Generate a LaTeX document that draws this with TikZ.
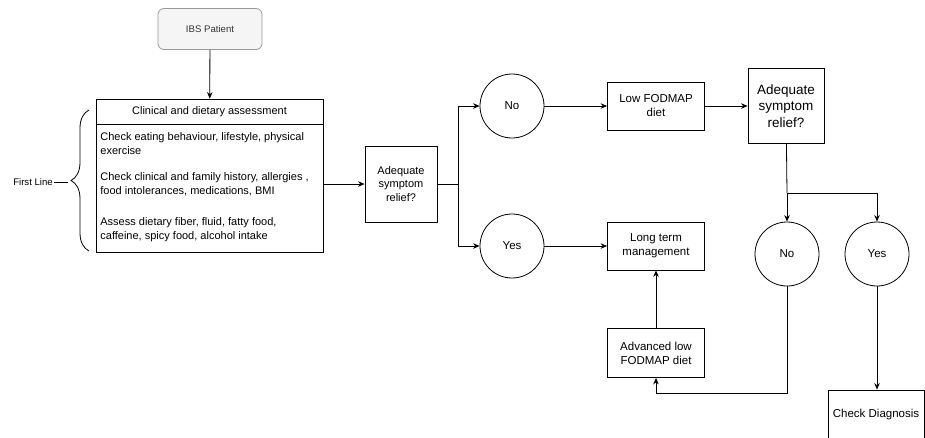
\documentclass[tikz,border=0pt]{standalone}
\usepackage{fontspec}
\setmainfont{Liberation Sans}
\usetikzlibrary{decorations.pathreplacing}
\usetikzlibrary{arrows.meta}

\begin{document}
\begin{tikzpicture}[x=1pt,y=-1pt,line width=0.8pt,>={Stealth[length=6.5pt,width=5.5pt]},
    box/.style={draw,rectangle,inner sep=1pt,align=center,font=\fontsize{11.5}{14}\selectfont},
    circ/.style={draw,circle,minimum size=64pt,inner sep=0pt,font=\fontsize{11.5}{14}\selectfont},
    para/.style={anchor=west,align=left,inner sep=0pt,font=\fontsize{11}{14}\selectfont}]
  \useasboundingbox (0,0) rectangle (925,437);
  \clip (0,0) rectangle (925,437);

  \node (ibs) [box,rounded corners=6pt,draw=gray!80,fill=gray!8,text=black!80,
    minimum width=104pt,minimum height=41pt,font=\fontsize{9.6}{12}\selectfont] at (210,29) {IBS Patient};
  \node (clin) [box,minimum width=227pt,minimum height=153pt] at (209.5,175.5) {};
  \node (clinhead) [font=\fontsize{11}{14}\selectfont] at (209.5,111.5) {Clinical and dietary assessment};
  \draw (clin.west |- 0,124) -- (clin.east |- 0,124);
  \node (habits) [para] at (100,144) {Check eating behaviour, lifestyle, physical\\exercise};
  \node (history) [para] at (100,184.5) {Check clinical and family history, allergies ,\\food intolerances, medications, BMI};
  \node (intake) [para] at (100,230) {Assess dietary fiber, fluid, fatty food,\\caffeine, spicy food, alcohol intake};

  \node (first) [font=\fontsize{9.6}{12}\selectfont,inner sep=1pt] at (33,182) {First Line};
  \coordinate (bracebot) at (89,251);
  \coordinate (bracetop) at (89,110);
  \coordinate (bracetip) at (68,182);
  \draw[decorate,decoration={brace,amplitude=18pt}] (bracebot) -- (bracetop);
  \draw (first) -- (bracetip);

  \node (adq1) [box,minimum width=72pt,minimum height=76pt,font=\fontsize{11}{13.3}\selectfont] at (401,184) {Adequate\\symptom\\relief?};
  \coordinate (split1) at (458,184);
  \node (no1) [circ] at (512,106) {No};
  \node (yes1) [circ] at (512,246) {Yes};
  \node (low) [box,minimum width=97pt,minimum height=48pt] at (656,106) {Low FODMAP\\diet};
  \node (longt) [box,minimum width=97pt,minimum height=48pt] at (656,246) {Long term\\management};
  \node (adv) [box,minimum width=97pt,minimum height=49pt] at (656,353) {Advanced low\\FODMAP diet};
  \node (adq2) [box,minimum width=76pt,minimum height=75pt,font=\fontsize{13.5}{16.7}\selectfont] at (786,106) {Adequate\\symptom\\relief?};
  \coordinate (split2) at (787,193);
  \node (no2) [circ] at (787,254) {No};
  \node (yes2) [circ] at (877,254) {Yes};
  \node (diag) [box,minimum width=96pt,minimum height=50pt] at (876,415) {Check Diagnosis};
  \coordinate (loop) at (787,393);

  \path[->]
    (ibs) edge (clin)
    (clin.east |- adq1.west) edge (adq1)
    (no1) edge (low)
    (low) edge (adq2)
    (yes1) edge (longt)
    (adv) edge (longt)
    (split2) edge (no2)
    (yes2) edge (diag.north -| yes2);
  \draw (adq1) -- (split1);
  \draw[->] (split1) |- (no1);
  \draw[->] (split1) |- (yes1);
  \draw (adq2) -- (split2);
  \draw[->] (split2) -| (yes2);
  \draw[->] (no2) -- (loop) -| (adv);
\end{tikzpicture}
\end{document}
